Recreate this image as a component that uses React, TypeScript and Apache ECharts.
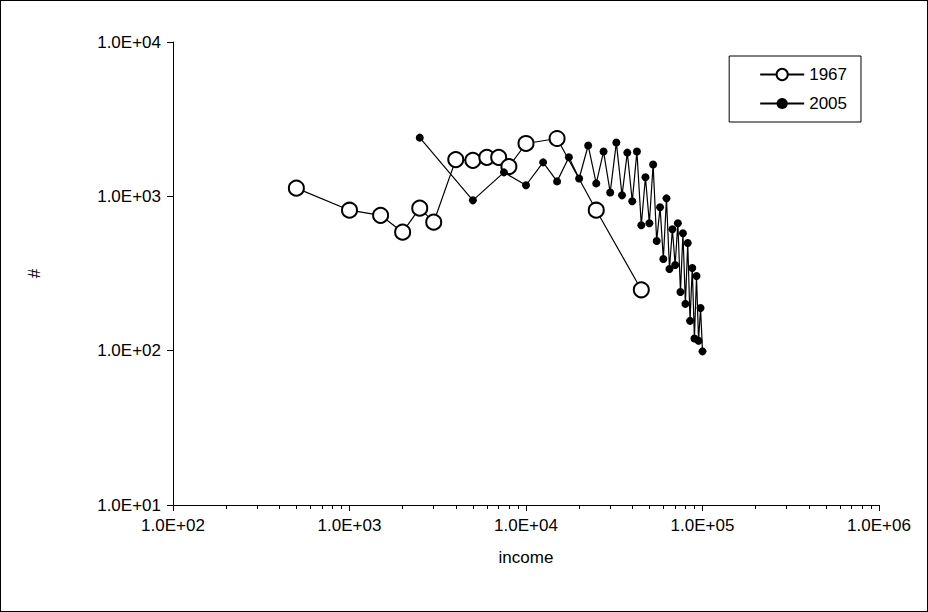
import React, { useEffect, useRef } from 'react';
import * as echarts from 'echarts';

const income1967 = [500, 1000, 1500, 2000, 2500, 3000, 4000, 5000, 6000, 7000, 8000, 10000, 15000, 25000, 45000];
const count1967 = [1130, 813, 753, 586, 838, 680, 1730, 1710, 1790, 1790, 1560, 2200, 2370, 813, 248];

const income2005 = [
  2500, 5000, 7500, 10000, 12500, 15000, 17500, 20000, 22500, 25000, 27500, 30000, 32500, 35000,
  37500, 40000, 42500, 45000, 47500, 50000, 52500, 55000, 57500, 60000, 62500, 65000, 67500,
  70000, 72500, 75000, 77500, 80000, 82500, 85000, 87500, 90000, 92500, 95000, 97500, 100000,
];
const count2005 = [
  2400, 942, 1430, 1180, 1660, 1250, 1790, 1305, 2135, 1213, 1950, 1060, 2230, 1015,
  1920, 929, 1950, 650, 1330, 670, 1607, 513, 849, 393, 970, 338, 612,
  359, 670, 240, 577, 201, 498, 156, 343, 120, 305, 116, 189, 99,
];

const sci = (v: number) => {
  const e = Math.round(Math.log10(v));
  return `1.0E+${e < 10 ? '0' + e : e}`;
};

const App: React.FC = () => {
  const chartRef = useRef<HTMLDivElement>(null);

  useEffect(() => {
    if (!chartRef.current) return;
    const chart = echarts.init(chartRef.current, undefined, { renderer: 'svg' });
    const font = 'Liberation Sans, Arial, sans-serif';
    const axisCommon = {
      type: 'log' as const,
      logBase: 10,
      axisLine: { show: true, lineStyle: { color: '#000', width: 1 } },
      axisTick: { show: true, inside: false, length: 6, lineStyle: { color: '#000' } },
      splitLine: { show: false },
      axisLabel: { color: '#000', fontSize: 17, fontFamily: font, formatter: sci },
      nameTextStyle: { color: '#000', fontSize: 17, fontFamily: font },
      nameLocation: 'middle' as const,
    };
    chart.setOption({
      animation: false,
      textStyle: { fontFamily: font },
      grid: { left: 172, right: 48, top: 41, bottom: 106 },
      legend: {
        right: 66,
        top: 55,
        orient: 'vertical',
        backgroundColor: '#fff',
        borderColor: '#000',
        borderWidth: 1,
        borderRadius: 0,
        padding: [10, 14, 10, 30],
        itemGap: 12,
        itemWidth: 44,
        itemHeight: 14,
        textStyle: { color: '#000', fontSize: 17, fontFamily: font },
        data: ['1967', '2005'],
      },
      xAxis: {
        ...axisCommon,
        min: 100,
        max: 1000000,
        name: 'income',
        nameGap: 44,
        axisLabel: { ...axisCommon.axisLabel, margin: 12 },
        minorTick: { show: true, splitNumber: 9, length: 4, lineStyle: { color: '#000' } },
      },
      yAxis: {
        ...axisCommon,
        min: 10,
        max: 10000,
        name: '#',
        nameGap: 130,
        nameRotate: 90,
        axisLabel: { ...axisCommon.axisLabel, margin: 12 },
      },
      series: [
        {
          name: '1967',
          type: 'line',
          data: income1967.map((x, i) => [x, count1967[i]]),
          symbol: 'emptyCircle',
          symbolSize: 15,
          lineStyle: { color: '#000', width: 1.2 },
          itemStyle: { color: '#000', borderColor: '#000', borderWidth: 1 },
        },
        {
          name: '2005',
          type: 'line',
          data: income2005.map((x, i) => [x, count2005[i]]),
          symbol: 'circle',
          symbolSize: 8,
          lineStyle: { color: '#000', width: 1.2 },
          itemStyle: { color: '#000' },
        },
      ],
    });
    return () => chart.dispose();
  }, []);

  return (
    <div
      style={{
        position: 'fixed',
        left: 0,
        top: 0,
        width: 928,
        height: 612,
        boxSizing: 'border-box',
        border: '1px solid #000',
        background: '#fff',
      }}
    >
      <div ref={chartRef} style={{ width: 926, height: 610 }} />
    </div>
  );
};

export default App;
